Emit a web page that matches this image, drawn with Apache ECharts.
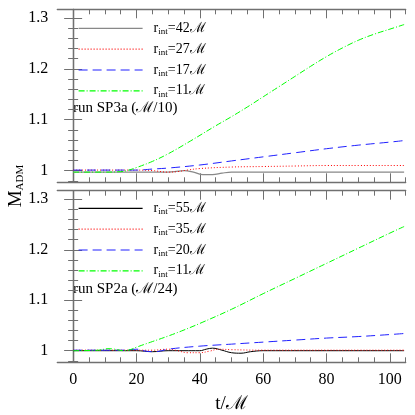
<!DOCTYPE html>
<html>
<head>
<meta charset="utf-8">
<script src="https://cdn.jsdelivr.net/npm/echarts@6/dist/echarts.min.js"></script>
<style>
  html, body { margin: 0; padding: 0; background: #fff; }
  #chart { width: 415px; height: 415px; }
</style>
</head>
<body>
<div id="chart"></div>
<script>
// run SP3a (top panel)
const sp3aT42 = [0, 10, 20, 28, 32, 35, 38, 41, 44, 47, 50, 60, 70, 80, 90, 100, 104.5];
const sp3aM42 = [0.997, 0.997, 0.997, 0.997, 0.998, 1.000, 0.997, 0.992, 0.992, 0.995, 0.997, 0.997, 0.997, 0.997, 0.997, 0.997, 0.997];
const sp3aT27 = [0, 20, 25, 30, 33, 36, 40, 50, 60, 70, 80, 90, 100, 104.5];
const sp3aM27 = [1.001, 1.001, 1.000, 0.997, 0.998, 1.001, 1.004, 1.007, 1.008, 1.009, 1.010, 1.010, 1.010, 1.010];
const sp3aT17 = [0, 15, 20, 25, 30, 40, 50, 60, 70, 80, 90, 100, 104.5];
const sp3aM17 = [1.001, 1.001, 1.001, 1.003, 1.005, 1.011, 1.019, 1.027, 1.035, 1.043, 1.050, 1.056, 1.059];
const sp3aT11 = [0, 10, 15, 17, 20, 25, 30, 37, 45, 50, 55, 60, 65, 70, 75, 80, 85, 90, 95, 100, 104.5];
const sp3aM11 = [0.997, 0.997, 0.998, 1.000, 1.006, 1.018, 1.033, 1.058, 1.088, 1.106, 1.125, 1.145, 1.165, 1.185, 1.205, 1.224, 1.241, 1.256, 1.268, 1.278, 1.287];

// run SP2a (bottom panel)
const sp2aT55 = [0, 10, 20, 25, 30, 35, 40, 42, 44, 47, 50, 53, 56, 60, 70, 80, 90, 100, 104.5];
const sp2aM55 = [1.000, 1.000, 1.000, 0.998, 1.000, 1.000, 1.000, 1.003, 1.005, 1.001, 0.996, 0.995, 0.998, 1.000, 1.000, 1.000, 1.000, 1.000, 1.000];
const sp2aT35 = [0, 20, 25, 30, 33, 36, 40, 43, 46, 50, 60, 70, 80, 90, 100, 104.5];
const sp2aM35 = [1.001, 1.001, 1.001, 1.003, 1.000, 0.996, 0.996, 0.999, 1.003, 1.002, 1.001, 1.001, 1.001, 1.001, 1.001, 1.001];
const sp2aT20 = [0, 15, 18, 20, 23, 26, 30, 40, 50, 60, 70, 80, 90, 100, 104.5];
const sp2aM20 = [1.001, 1.001, 1.002, 1.003, 0.999, 0.998, 1.003, 1.009, 1.013, 1.017, 1.021, 1.025, 1.028, 1.032, 1.034];
const sp2aT11 = [0, 8, 11, 13, 16, 18, 20, 25, 30, 35, 40, 50, 60, 70, 80, 90, 100, 104.5];
const sp2aM11 = [1.000, 1.001, 1.004, 1.003, 1.000, 1.002, 1.007, 1.018, 1.029, 1.041, 1.054, 1.082, 1.113, 1.143, 1.173, 1.203, 1.233, 1.246];

// ticks
const xMajor = [0, 20, 40, 60, 80, 100];
const xMinor = [0, 5, 10, 15, 20, 25, 30, 35, 40, 45, 50, 55, 60, 65, 70, 75, 80, 85, 90, 95, 100, 105];
const yMajor = [1, 1.1, 1.2, 1.3];
const yMinor = [0.98, 1.0, 1.02, 1.04, 1.06, 1.08, 1.1, 1.12, 1.14, 1.16, 1.18, 1.2, 1.22, 1.24, 1.26, 1.28, 1.3];

const legendTop = ['42', '27', '17', '11'];
const legendBottom = ['55', '35', '20', '11'];

const FONT = 'Liberation Serif, DejaVu Serif, serif';
const AXIS_COLOR = '#707070';

const chart = echarts.init(document.getElementById('chart'));

function pairs(ts, ms) {
  return ts.map((t, i) => [t, ms[i]]);
}

function xAx(grid, pos, vals, len, labels) {
  return {
    type: 'value', gridIndex: grid, position: pos, min: -5, max: 105,
    axisLine: { show: len > 6, lineStyle: { color: AXIS_COLOR, width: 1.3 } },
    axisTick: { show: true, inside: true, length: len, customValues: vals,
      lineStyle: { color: AXIS_COLOR, width: 1 } },
    axisLabel: { show: labels, customValues: vals, margin: 9,
      fontFamily: FONT, fontSize: 16, color: '#000' },
    splitLine: { show: false }
  };
}

function yAx(grid, pos, vals, len, labels) {
  return {
    type: 'value', gridIndex: grid, position: pos, min: 0.977, max: 1.317,
    axisLine: { show: len > 6, lineStyle: { color: AXIS_COLOR, width: 1.3 } },
    axisTick: { show: true, inside: true, length: len, customValues: vals,
      lineStyle: { color: AXIS_COLOR, width: 1 } },
    axisLabel: { show: labels, customValues: vals, margin: 9,
      fontFamily: FONT, fontSize: 16, color: '#000' },
    splitLine: { show: false }
  };
}

const xAxes = [];
const yAxes = [];
[0, 1].forEach(g => {
  xAxes.push(xAx(g, 'bottom', xMajor, 9, g === 1));
  xAxes.push(xAx(g, 'bottom', xMinor, 5, false));
  xAxes.push(xAx(g, 'top', xMajor, 9, false));
  xAxes.push(xAx(g, 'top', xMinor, 5, false));
  yAxes.push(yAx(g, 'left', yMajor, 9, true));
  yAxes.push(yAx(g, 'left', yMinor, 5, false));
  yAxes.push(yAx(g, 'right', yMajor, 9, false));
  yAxes.push(yAx(g, 'right', yMinor, 5, false));
});
xAxes[4].name = 't/ℳ';
xAxes[4].nameLocation = 'middle';
xAxes[4].nameGap = 32;
xAxes[4].nameTextStyle = { fontFamily: FONT, fontSize: 19, color: '#000' };

const styles = [
  { color: '#888888', type: 'solid', width: 1.2 },
  { color: '#ff0000', type: [1, 2], width: 1 },
  { color: '#2020ff', type: [9, 5], width: 1 },
  { color: '#00ff00', type: [6, 2, 1, 2], width: 1 }
];
const stylesBottom = [
  { color: '#000000', type: 'solid', width: 1 },
  styles[1], styles[2], styles[3]
];

function line(name, idx, ts, ms, style) {
  return {
    name: name, type: 'line', xAxisIndex: idx, yAxisIndex: idx,
    data: pairs(ts, ms), smooth: 0.4, symbol: 'none',
    lineStyle: style, itemStyle: { color: style.color }, z: 3
  };
}

const series = [
  line('top42', 0, sp3aT42, sp3aM42, styles[0]),
  line('top27', 0, sp3aT27, sp3aM27, styles[1]),
  line('top17', 0, sp3aT17, sp3aM17, styles[2]),
  line('top11', 0, sp3aT11, sp3aM11, styles[3]),
  line('bot55', 4, sp2aT55, sp2aM55, stylesBottom[0]),
  line('bot35', 4, sp2aT35, sp2aM35, stylesBottom[1]),
  line('bot20', 4, sp2aT20, sp2aM20, stylesBottom[2]),
  line('bot11', 4, sp2aT11, sp2aM11, stylesBottom[3])
];

function legendText(name) {
  const r = name.slice(3);
  return '{a|r}{b|int}{a|=' + r + 'ℳ}';
}

const legendStyle = {
  fontFamily: FONT, fontSize: 14, color: '#000', padding: [0, 0, 0, 6],
  rich: {
    a: { fontFamily: FONT, fontSize: 14, color: '#000' },
    b: { fontFamily: FONT, fontSize: 9, color: '#000', padding: [7, 0, 0, 0] }
  }
};

const legendCommon = {
  orient: 'vertical', left: 73, itemWidth: 64, itemHeight: 14, itemGap: 5.8,
  selectedMode: false, formatter: legendText, textStyle: legendStyle,
  itemStyle: { opacity: 0 }, lineStyle: { width: 1.2 }
};

const option = {
  animation: false,
  grid: [
    { left: 57.3, right: 9.3, top: 9.3, height: 173 },
    { left: 57.3, right: 9.3, top: 190.7, height: 171.6 }
  ],
  xAxis: xAxes,
  yAxis: yAxes,
  legend: [
    Object.assign({ data: legendTop.map(v => 'top' + v), top: 16.4 }, legendCommon),
    Object.assign({ data: legendBottom.map(v => 'bot' + v), top: 196.4 }, legendCommon)
  ],
  graphic: [
    { type: 'text', left: 73, top: 101,
      style: { text: 'run SP3a (ℳ/10)', font: '15px ' + FONT, fill: '#000' } },
    { type: 'text', left: 73, top: 282,
      style: { text: 'run SP2a (ℳ/24)', font: '15px ' + FONT, fill: '#000' } },
    { type: 'text', x: 16, y: 186, rotation: Math.PI / 2,
      style: { text: '{m|M}{s|ADM}', align: 'center', verticalAlign: 'middle',
        rich: {
          m: { fontFamily: FONT, fontSize: 19, fill: '#000' },
          s: { fontFamily: FONT, fontSize: 11, fill: '#000', padding: [9, 0, 0, 0] }
        } } }
  ],
  series: series
};

chart.setOption(option);
</script>
</body>
</html>
